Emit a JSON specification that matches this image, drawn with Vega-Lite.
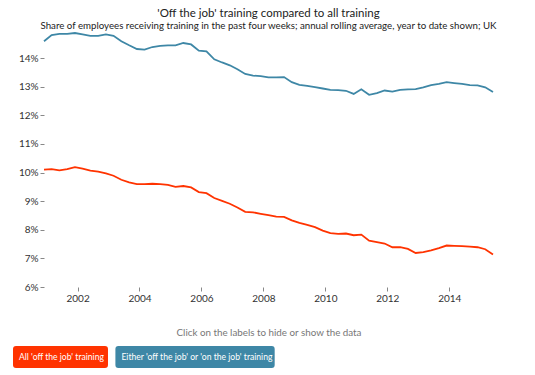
{
  "$schema": "https://vega.github.io/schema/vega-lite/v6.json",
  "width": 449,
  "height": 254,
  "autosize": {"type": "none"},
  "padding": {"left": 44, "top": 33, "right": 42, "bottom": 88},
  "background": "white",
  "config": {"font": "Lato", "view": {"stroke": null}},
  "title": {
    "text": "'Off the job' training compared to all training",
    "subtitle": "Share of employees receiving training in the past four weeks; annual rolling average, year to date shown; UK",
    "anchor": "middle",
    "frame": "group",
    "font": "Lato",
    "fontSize": 11.5,
    "fontWeight": "normal",
    "color": "#222",
    "subtitleFont": "Lato",
    "subtitleFontSize": 9.7,
    "subtitleColor": "#222",
    "subtitlePadding": 1,
    "offset": -1
  },
  "data": {"values": [
    {"date": "2000-12-01", "series": "All 'off the job' training", "value": 10.10},
    {"date": "2001-03-01", "series": "All 'off the job' training", "value": 10.12},
    {"date": "2001-06-01", "series": "All 'off the job' training", "value": 10.08},
    {"date": "2001-09-01", "series": "All 'off the job' training", "value": 10.12},
    {"date": "2001-12-01", "series": "All 'off the job' training", "value": 10.19},
    {"date": "2002-03-01", "series": "All 'off the job' training", "value": 10.14},
    {"date": "2002-06-01", "series": "All 'off the job' training", "value": 10.07},
    {"date": "2002-09-01", "series": "All 'off the job' training", "value": 10.03},
    {"date": "2002-12-01", "series": "All 'off the job' training", "value": 9.97},
    {"date": "2003-03-01", "series": "All 'off the job' training", "value": 9.89},
    {"date": "2003-06-01", "series": "All 'off the job' training", "value": 9.75},
    {"date": "2003-09-01", "series": "All 'off the job' training", "value": 9.66},
    {"date": "2003-12-01", "series": "All 'off the job' training", "value": 9.60},
    {"date": "2004-03-01", "series": "All 'off the job' training", "value": 9.60},
    {"date": "2004-06-01", "series": "All 'off the job' training", "value": 9.61},
    {"date": "2004-09-01", "series": "All 'off the job' training", "value": 9.60},
    {"date": "2004-12-01", "series": "All 'off the job' training", "value": 9.57},
    {"date": "2005-03-01", "series": "All 'off the job' training", "value": 9.50},
    {"date": "2005-06-01", "series": "All 'off the job' training", "value": 9.53},
    {"date": "2005-09-01", "series": "All 'off the job' training", "value": 9.48},
    {"date": "2005-12-01", "series": "All 'off the job' training", "value": 9.32},
    {"date": "2006-03-01", "series": "All 'off the job' training", "value": 9.28},
    {"date": "2006-06-01", "series": "All 'off the job' training", "value": 9.11},
    {"date": "2006-09-01", "series": "All 'off the job' training", "value": 9.01},
    {"date": "2006-12-01", "series": "All 'off the job' training", "value": 8.91},
    {"date": "2007-03-01", "series": "All 'off the job' training", "value": 8.78},
    {"date": "2007-06-01", "series": "All 'off the job' training", "value": 8.63},
    {"date": "2007-09-01", "series": "All 'off the job' training", "value": 8.61},
    {"date": "2007-12-01", "series": "All 'off the job' training", "value": 8.56},
    {"date": "2008-03-01", "series": "All 'off the job' training", "value": 8.51},
    {"date": "2008-06-01", "series": "All 'off the job' training", "value": 8.46},
    {"date": "2008-09-01", "series": "All 'off the job' training", "value": 8.45},
    {"date": "2008-12-01", "series": "All 'off the job' training", "value": 8.33},
    {"date": "2009-03-01", "series": "All 'off the job' training", "value": 8.24},
    {"date": "2009-06-01", "series": "All 'off the job' training", "value": 8.17},
    {"date": "2009-09-01", "series": "All 'off the job' training", "value": 8.09},
    {"date": "2009-12-01", "series": "All 'off the job' training", "value": 7.97},
    {"date": "2010-03-01", "series": "All 'off the job' training", "value": 7.88},
    {"date": "2010-06-01", "series": "All 'off the job' training", "value": 7.86},
    {"date": "2010-09-01", "series": "All 'off the job' training", "value": 7.87},
    {"date": "2010-12-01", "series": "All 'off the job' training", "value": 7.81},
    {"date": "2011-03-01", "series": "All 'off the job' training", "value": 7.83},
    {"date": "2011-06-01", "series": "All 'off the job' training", "value": 7.62},
    {"date": "2011-09-01", "series": "All 'off the job' training", "value": 7.57},
    {"date": "2011-12-01", "series": "All 'off the job' training", "value": 7.52},
    {"date": "2012-03-01", "series": "All 'off the job' training", "value": 7.39},
    {"date": "2012-06-01", "series": "All 'off the job' training", "value": 7.39},
    {"date": "2012-09-01", "series": "All 'off the job' training", "value": 7.33},
    {"date": "2012-12-01", "series": "All 'off the job' training", "value": 7.19},
    {"date": "2013-03-01", "series": "All 'off the job' training", "value": 7.22},
    {"date": "2013-06-01", "series": "All 'off the job' training", "value": 7.28},
    {"date": "2013-09-01", "series": "All 'off the job' training", "value": 7.36},
    {"date": "2013-12-01", "series": "All 'off the job' training", "value": 7.45},
    {"date": "2014-03-01", "series": "All 'off the job' training", "value": 7.44},
    {"date": "2014-06-01", "series": "All 'off the job' training", "value": 7.43},
    {"date": "2014-09-01", "series": "All 'off the job' training", "value": 7.41},
    {"date": "2014-12-01", "series": "All 'off the job' training", "value": 7.39},
    {"date": "2015-03-01", "series": "All 'off the job' training", "value": 7.32},
    {"date": "2015-06-01", "series": "All 'off the job' training", "value": 7.14},
    {"date": "2000-12-01", "series": "Either 'off the job' or 'on the job' training", "value": 14.59},
    {"date": "2001-03-01", "series": "Either 'off the job' or 'on the job' training", "value": 14.81},
    {"date": "2001-06-01", "series": "Either 'off the job' or 'on the job' training", "value": 14.85},
    {"date": "2001-09-01", "series": "Either 'off the job' or 'on the job' training", "value": 14.85},
    {"date": "2001-12-01", "series": "Either 'off the job' or 'on the job' training", "value": 14.88},
    {"date": "2002-03-01", "series": "Either 'off the job' or 'on the job' training", "value": 14.83},
    {"date": "2002-06-01", "series": "Either 'off the job' or 'on the job' training", "value": 14.78},
    {"date": "2002-09-01", "series": "Either 'off the job' or 'on the job' training", "value": 14.78},
    {"date": "2002-12-01", "series": "Either 'off the job' or 'on the job' training", "value": 14.83},
    {"date": "2003-03-01", "series": "Either 'off the job' or 'on the job' training", "value": 14.78},
    {"date": "2003-06-01", "series": "Either 'off the job' or 'on the job' training", "value": 14.59},
    {"date": "2003-09-01", "series": "Either 'off the job' or 'on the job' training", "value": 14.45},
    {"date": "2003-12-01", "series": "Either 'off the job' or 'on the job' training", "value": 14.32},
    {"date": "2004-03-01", "series": "Either 'off the job' or 'on the job' training", "value": 14.30},
    {"date": "2004-06-01", "series": "Either 'off the job' or 'on the job' training", "value": 14.39},
    {"date": "2004-09-01", "series": "Either 'off the job' or 'on the job' training", "value": 14.43},
    {"date": "2004-12-01", "series": "Either 'off the job' or 'on the job' training", "value": 14.45},
    {"date": "2005-03-01", "series": "Either 'off the job' or 'on the job' training", "value": 14.45},
    {"date": "2005-06-01", "series": "Either 'off the job' or 'on the job' training", "value": 14.53},
    {"date": "2005-09-01", "series": "Either 'off the job' or 'on the job' training", "value": 14.48},
    {"date": "2005-12-01", "series": "Either 'off the job' or 'on the job' training", "value": 14.26},
    {"date": "2006-03-01", "series": "Either 'off the job' or 'on the job' training", "value": 14.24},
    {"date": "2006-06-01", "series": "Either 'off the job' or 'on the job' training", "value": 13.96},
    {"date": "2006-09-01", "series": "Either 'off the job' or 'on the job' training", "value": 13.85},
    {"date": "2006-12-01", "series": "Either 'off the job' or 'on the job' training", "value": 13.75},
    {"date": "2007-03-01", "series": "Either 'off the job' or 'on the job' training", "value": 13.61},
    {"date": "2007-06-01", "series": "Either 'off the job' or 'on the job' training", "value": 13.45},
    {"date": "2007-09-01", "series": "Either 'off the job' or 'on the job' training", "value": 13.39},
    {"date": "2007-12-01", "series": "Either 'off the job' or 'on the job' training", "value": 13.37},
    {"date": "2008-03-01", "series": "Either 'off the job' or 'on the job' training", "value": 13.33},
    {"date": "2008-06-01", "series": "Either 'off the job' or 'on the job' training", "value": 13.33},
    {"date": "2008-09-01", "series": "Either 'off the job' or 'on the job' training", "value": 13.34},
    {"date": "2008-12-01", "series": "Either 'off the job' or 'on the job' training", "value": 13.16},
    {"date": "2009-03-01", "series": "Either 'off the job' or 'on the job' training", "value": 13.07},
    {"date": "2009-06-01", "series": "Either 'off the job' or 'on the job' training", "value": 13.03},
    {"date": "2009-09-01", "series": "Either 'off the job' or 'on the job' training", "value": 12.99},
    {"date": "2009-12-01", "series": "Either 'off the job' or 'on the job' training", "value": 12.94},
    {"date": "2010-03-01", "series": "Either 'off the job' or 'on the job' training", "value": 12.89},
    {"date": "2010-06-01", "series": "Either 'off the job' or 'on the job' training", "value": 12.88},
    {"date": "2010-09-01", "series": "Either 'off the job' or 'on the job' training", "value": 12.86},
    {"date": "2010-12-01", "series": "Either 'off the job' or 'on the job' training", "value": 12.75},
    {"date": "2011-03-01", "series": "Either 'off the job' or 'on the job' training", "value": 12.91},
    {"date": "2011-06-01", "series": "Either 'off the job' or 'on the job' training", "value": 12.72},
    {"date": "2011-09-01", "series": "Either 'off the job' or 'on the job' training", "value": 12.78},
    {"date": "2011-12-01", "series": "Either 'off the job' or 'on the job' training", "value": 12.87},
    {"date": "2012-03-01", "series": "Either 'off the job' or 'on the job' training", "value": 12.83},
    {"date": "2012-06-01", "series": "Either 'off the job' or 'on the job' training", "value": 12.89},
    {"date": "2012-09-01", "series": "Either 'off the job' or 'on the job' training", "value": 12.91},
    {"date": "2012-12-01", "series": "Either 'off the job' or 'on the job' training", "value": 12.92},
    {"date": "2013-03-01", "series": "Either 'off the job' or 'on the job' training", "value": 12.98},
    {"date": "2013-06-01", "series": "Either 'off the job' or 'on the job' training", "value": 13.06},
    {"date": "2013-09-01", "series": "Either 'off the job' or 'on the job' training", "value": 13.10},
    {"date": "2013-12-01", "series": "Either 'off the job' or 'on the job' training", "value": 13.16},
    {"date": "2014-03-01", "series": "Either 'off the job' or 'on the job' training", "value": 13.13},
    {"date": "2014-06-01", "series": "Either 'off the job' or 'on the job' training", "value": 13.10},
    {"date": "2014-09-01", "series": "Either 'off the job' or 'on the job' training", "value": 13.06},
    {"date": "2014-12-01", "series": "Either 'off the job' or 'on the job' training", "value": 13.05},
    {"date": "2015-03-01", "series": "Either 'off the job' or 'on the job' training", "value": 12.98},
    {"date": "2015-06-01", "series": "Either 'off the job' or 'on the job' training", "value": 12.82}
  ]},
  "mark": {"type": "line", "strokeWidth": 1.8},
  "encoding": {
    "x": {
      "field": "date",
      "type": "temporal",
      "axis": {
        "title": "Click on the labels to hide or show the data",
        "titleFont": "Lato",
        "titleFontSize": 9.8,
        "titleFontWeight": "normal",
        "titleColor": "#777",
        "titlePadding": 24,
        "format": "%Y",
        "tickCount": {"interval": "year", "step": 2},
        "domain": false,
        "grid": false,
        "tickSize": 4,
        "tickColor": "#888",
        "labelFont": "Lato",
        "labelFontSize": 10,
        "labelColor": "#333",
        "labelPadding": 2
      }
    },
    "y": {
      "field": "value",
      "type": "quantitative",
      "scale": {"domain": [6, 14.88], "nice": false, "zero": false},
      "axis": {
        "title": null,
        "values": [6, 7, 8, 9, 10, 11, 12, 13, 14],
        "labelExpr": "datum.value + '%'",
        "domain": false,
        "grid": false,
        "tickSize": 4,
        "tickColor": "#888",
        "labelFont": "Lato",
        "labelFontSize": 10,
        "labelColor": "#333",
        "labelPadding": 2
      }
    },
    "color": {
      "field": "series",
      "type": "nominal",
      "scale": {
        "domain": ["All 'off the job' training", "Either 'off the job' or 'on the job' training"],
        "range": ["#ff3300", "#3e87a6"]
      },
      "legend": {
        "title": null,
        "orient": "none",
        "legendX": -31,
        "legendY": 313,
        "direction": "horizontal",
        "padding": 0,
        "columnPadding": 7.4,
        "symbolSize": 484,
        "symbolStrokeWidth": 0,
        "symbolOffset": 0,
        "labelOffset": -16,
        "labelColor": "white",
        "labelFont": "Lato",
        "labelFontSize": 8.6,
        "labelLimit": 300,
        "labelBaseline": "middle",
        "encode": {
          "symbols": {
            "update": {
              "shape": {"signal": "datum.index === 0 ? 'M-0.727,-1H7.364Q7.636,-1,7.636,-0.727V0.727Q7.636,1,7.364,1H-0.727Q-1,1,-1,0.727V-0.727Q-1,-1,-0.727,-1Z' : 'M-0.727,-1H13.207Q13.48,-1,13.48,-0.727V0.727Q13.48,1,13.207,1H-0.727Q-1,1,-1,0.727V-0.727Q-1,-1,-0.727,-1Z'"},
              "fill": {"scale": "color", "field": "value"},
              "stroke": {"value": "transparent"},
              "strokeWidth": {"value": 0},
              "opacity": {"value": 1}
            }
          }
        }
      }
    }
  }
}
